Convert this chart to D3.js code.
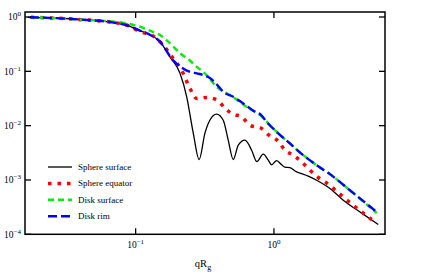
<!DOCTYPE html>
<html>
<head>
<meta charset="utf-8">
<script src="https://cdn.jsdelivr.net/npm/d3@7"></script>
<style>
  body { margin: 0; background: #fff; }
  text { font-family: "Liberation Serif", "Times New Roman", serif; fill: #000; }
</style>
</head>
<body>
<div id="graph"></div>
<script>
// values: [qRg, intensity]
var sphereSurface = [
  [0.0166, 0.987], [0.0252, 0.958], [0.0445, 0.880], [0.0652, 0.809], [0.0910, 0.674],
  [0.1074, 0.559], [0.1269, 0.472], [0.150, 0.351], [0.177, 0.185], [0.209, 0.0929],
  [0.234, 0.0340], [0.261, 0.00728], [0.288, 0.00238], [0.317, 0.00728], [0.344, 0.0126],
  [0.385, 0.0163], [0.430, 0.0126], [0.467, 0.00541], [0.508, 0.00238], [0.552, 0.00437],
  [0.617, 0.00541], [0.690, 0.00353], [0.752, 0.00218], [0.837, 0.00300], [0.910, 0.00231],
  [0.962, 0.00190], [1.046, 0.00228], [1.137, 0.00190], [1.201, 0.00172], [1.305, 0.00168],
  [1.459, 0.00141], [1.586, 0.00131], [1.770, 0.00118], [2.035, 0.000989], [2.541, 0.000696],
  [3.17, 0.000424], [4.31, 0.000245], [5.68, 0.000151]
];

var sphereEquator = [
  [0.0175, 0.987], [0.0252, 0.958], [0.0445, 0.880], [0.0652, 0.809], [0.0910, 0.674],
  [0.1074, 0.536], [0.1306, 0.466], [0.154, 0.328], [0.186, 0.175], [0.215, 0.105],
  [0.247, 0.0485], [0.276, 0.0317], [0.326, 0.0331], [0.396, 0.0287], [0.442, 0.0208],
  [0.508, 0.0163], [0.584, 0.0145], [0.670, 0.0102], [0.815, 0.00887], [0.920, 0.00668],
  [1.074, 0.00518], [1.201, 0.00353], [1.379, 0.00286], [1.586, 0.00215], [1.820, 0.00151],
  [2.091, 0.00111], [2.405, 0.000880], [3.17, 0.000487], [4.31, 0.000258], [5.09, 0.000187]
];

var diskSurface = [
  [0.0172, 0.987], [0.0252, 0.958], [0.0445, 0.880], [0.0652, 0.833], [0.0910, 0.743],
  [0.1074, 0.662], [0.1269, 0.560], [0.150, 0.466], [0.177, 0.328], [0.209, 0.217],
  [0.247, 0.158], [0.277, 0.121], [0.326, 0.0853], [0.385, 0.0519], [0.481, 0.0365],
  [0.635, 0.0222], [0.792, 0.0156], [1.046, 0.00769], [1.305, 0.00470], [1.629, 0.00286],
  [2.035, 0.00187], [2.541, 0.00128], [3.54, 0.000647], [5.53, 0.000247]
];

var diskRim = [
  [0.0172, 0.987], [0.0252, 0.958], [0.0445, 0.880], [0.0652, 0.809], [0.0910, 0.674],
  [0.1074, 0.559], [0.1269, 0.472], [0.150, 0.351], [0.186, 0.161], [0.220, 0.113],
  [0.247, 0.0981], [0.277, 0.0917], [0.308, 0.0853], [0.344, 0.0751], [0.364, 0.0670],
  [0.407, 0.0491], [0.430, 0.0420], [0.508, 0.0340], [0.600, 0.0256], [0.729, 0.0180],
  [0.800, 0.0160], [0.900, 0.0112], [1.046, 0.00769], [1.305, 0.00470], [1.629, 0.00286],
  [2.035, 0.00187], [2.541, 0.00128], [3.54, 0.000647], [5.53, 0.000258]
];

var seriesNames = ["Sphere surface", "Sphere equator", "Disk surface", "Disk rim"];
var xTickValues = [0.1, 1];
var xTickExp = ["\u22121", "0"];
var yTickValues = [1, 0.1, 0.01, 0.001, 0.0001];
var yTickExp = ["0", "\u22121", "\u22122", "\u22123", "\u22124"];

var width = 445, height = 277;
var plot = { left: 25, right: 385, top: 12, bottom: 234.3 };

var styles = [
  { color: "#000000", width: 1.3, dash: null },
  { color: "#ff0000", width: 3.5, dash: "3.5,6" },
  { color: "#00ee00", width: 2.4, dash: "6,4" },
  { color: "#0000ff", width: 2.4, dash: "9,4" }
];

var xScale = d3.scaleLog()
  .domain([Math.pow(10, -1.8), Math.pow(10, 0.803)])
  .range([plot.left, plot.right]);

var yScale = d3.scaleLog()
  .domain([0.0001, Math.pow(10, 0.092)])
  .range([plot.bottom, plot.top]);

var svg = d3.select("#graph").append("svg")
  .attr("width", width)
  .attr("height", height);

svg.append("rect")
  .attr("width", width)
  .attr("height", height)
  .attr("fill", "#fff");

var chartLayer = svg.append("g").attr("class", "chartLayer");
var axisLayer = svg.append("g").attr("class", "axisLayer");

var line = d3.line()
  .x(function(d) { return xScale(d[0]); })
  .y(function(d) { return yScale(d[1]); })
  .curve(d3.curveMonotoneX);

var allSeries = [sphereSurface, sphereEquator, diskSurface, diskRim];

allSeries.forEach(function(data, i) {
  chartLayer.append("path")
    .datum(data)
    .attr("fill", "none")
    .attr("stroke", styles[i].color)
    .attr("stroke-width", styles[i].width)
    .attr("stroke-dasharray", styles[i].dash)
    .attr("d", line);
});

// frame
axisLayer.append("rect")
  .attr("x", plot.left)
  .attr("y", plot.top)
  .attr("width", plot.right - plot.left)
  .attr("height", plot.bottom - plot.top)
  .attr("fill", "none")
  .attr("stroke", "#000")
  .attr("stroke-width", 1.5);

// ticks, inward on all four sides
var tickLen = 6;
yTickValues.forEach(function(v, i) {
  var y = yScale(v);
  axisLayer.append("line")
    .attr("x1", plot.left).attr("x2", plot.left + tickLen)
    .attr("y1", y).attr("y2", y)
    .attr("stroke", "#000").attr("stroke-width", 1.3);
  axisLayer.append("line")
    .attr("x1", plot.right).attr("x2", plot.right - tickLen)
    .attr("y1", y).attr("y2", y)
    .attr("stroke", "#000").attr("stroke-width", 1.3);
  var t = axisLayer.append("text")
    .attr("x", plot.left - 4)
    .attr("y", y + 3.5)
    .attr("text-anchor", "end")
    .attr("font-size", 9.5);
  t.append("tspan").text("10");
  t.append("tspan").attr("dy", -4).attr("font-size", 7).text(yTickExp[i]);
});

xTickValues.forEach(function(v, i) {
  var x = xScale(v);
  axisLayer.append("line")
    .attr("x1", x).attr("x2", x)
    .attr("y1", plot.bottom).attr("y2", plot.bottom - tickLen)
    .attr("stroke", "#000").attr("stroke-width", 1.3);
  axisLayer.append("line")
    .attr("x1", x).attr("x2", x)
    .attr("y1", plot.top).attr("y2", plot.top + tickLen)
    .attr("stroke", "#000").attr("stroke-width", 1.3);
  var t = axisLayer.append("text")
    .attr("x", x)
    .attr("y", plot.bottom + 14)
    .attr("text-anchor", "middle")
    .attr("font-size", 9.5);
  t.append("tspan").text("10");
  t.append("tspan").attr("dy", -4).attr("font-size", 7).text(xTickExp[i]);
});

// x axis title
var xTitle = axisLayer.append("text")
  .attr("x", 203)
  .attr("y", 267)
  .attr("text-anchor", "middle")
  .attr("font-size", 10.5);
xTitle.append("tspan").text("qR");
xTitle.append("tspan").attr("dy", 3).attr("font-size", 8).text("g");

// legend
var legend = axisLayer.append("g")
  .attr("class", "legend")
  .selectAll("g")
  .data(seriesNames)
  .enter().append("g")
  .attr("transform", function(d, i) {
    return "translate(" + [48, 167 + i * 16.4] + ")";
  });

legend.append("line")
  .attr("x1", 0).attr("x2", 24)
  .attr("y1", 0).attr("y2", 0)
  .attr("stroke", function(d, i) { return styles[i].color; })
  .attr("stroke-width", function(d, i) { return styles[i].width; })
  .attr("stroke-dasharray", function(d, i) { return styles[i].dash; });

legend.append("text")
  .attr("x", 30)
  .attr("y", 3)
  .attr("font-size", 9)
  .text(function(d) { return d; });
</script>
</body>
</html>
